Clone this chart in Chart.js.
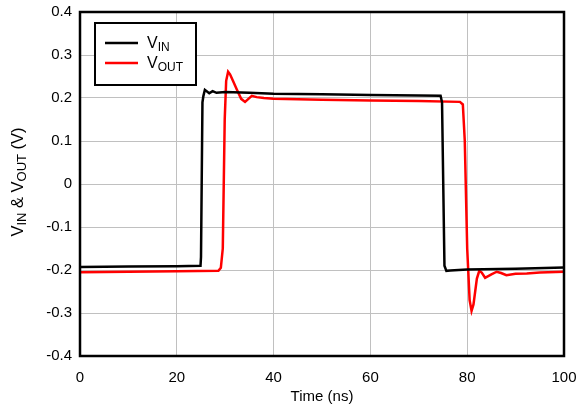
<!DOCTYPE html>
<html>
<head>
<meta charset="utf-8">
<script src="https://cdn.jsdelivr.net/npm/chart.js@4"></script>
<style>
  html, body { margin: 0; padding: 0; background: #fff; }
  #wrap { width: 580px; height: 410px; }
</style>
</head>
<body>
<div id="wrap"><canvas id="chart" width="580" height="410"></canvas></div>
<script>
// time axis (ns) and voltages (V)
const vinTime = [0, 10, 20, 24.9, 25.0, 25.3, 25.5, 25.8, 26.7, 27.4, 28.2, 30, 35, 40, 50, 60, 70, 74.5, 74.8, 75.3, 75.7, 76.5, 80, 90, 100];
const vinValues = [-0.193, -0.192, -0.191, -0.19, -0.17, 0.19, 0.205, 0.219, 0.211, 0.216, 0.212, 0.214, 0.212, 0.210, 0.209, 0.207, 0.206, 0.205, 0.19, -0.19, -0.202, -0.201, -0.199, -0.197, -0.194];

const voutTime = [0, 10, 20, 28.6, 29.1, 29.5, 29.9, 30.2, 30.6, 31.0, 31.6, 32.4, 33.3, 34.1, 34.8, 35.5, 36.5, 38, 40, 50, 60, 70, 78.5, 79.1, 79.5, 80.0, 80.5, 80.9, 81.3, 82.0, 82.5, 83.0, 83.7, 85, 86.1, 87, 88.1, 90, 92.3, 95, 100];
const voutValues = [-0.205, -0.204, -0.203, -0.202, -0.195, -0.15, 0.15, 0.24, 0.261, 0.255, 0.24, 0.22, 0.198, 0.191, 0.198, 0.205, 0.202, 0.200, 0.198, 0.196, 0.194, 0.193, 0.191, 0.185, 0.10, -0.15, -0.27, -0.295, -0.28, -0.22, -0.202, -0.206, -0.218, -0.21, -0.204, -0.207, -0.212, -0.209, -0.208, -0.206, -0.204];

const xTicks = [0, 20, 40, 60, 80, 100];
const yTicks = [-0.4, -0.3, -0.2, -0.1, 0, 0.1, 0.2, 0.3, 0.4];

const seriesNames = [['V', 'IN'], ['V', 'OUT']];
const seriesColors = ['#000000', '#ff0000'];

const FONT = '"Liberation Sans", Arial, sans-serif';

const toPoints = (xs, ys) => xs.map((x, i) => ({ x: x, y: ys[i] }));

// draws main text + subscript, returns the end x
const drawSub = (ctx, x, y, main, sub, size) => {
  ctx.font = size + 'px ' + FONT;
  ctx.fillText(main, x, y);
  const w = ctx.measureText(main).width;
  ctx.font = Math.round(size * 0.76) + 'px ' + FONT;
  ctx.fillText(sub, x + w, y + size * 0.24);
  return x + w + ctx.measureText(sub).width;
};

const framePlugin = {
  id: 'frame',
  afterDatasetsDraw: (chart) => {
    const { ctx, chartArea } = chart;
    ctx.save();
    ctx.strokeStyle = '#000';
    ctx.lineWidth = 2.5;
    ctx.strokeRect(chartArea.left, chartArea.top, chartArea.right - chartArea.left, chartArea.bottom - chartArea.top);

    // legend box
    const lx = 95, ly = 23, lw = 101, lh = 62;
    ctx.fillStyle = '#fff';
    ctx.fillRect(lx, ly, lw, lh);
    ctx.lineWidth = 2;
    ctx.strokeRect(lx, ly, lw, lh);
    seriesNames.forEach((name, i) => {
      const y = 43 + i * 20;
      ctx.strokeStyle = seriesColors[i];
      ctx.lineWidth = 2.5;
      ctx.beginPath();
      ctx.moveTo(105, y);
      ctx.lineTo(138, y);
      ctx.stroke();
      ctx.fillStyle = '#000';
      ctx.textBaseline = 'middle';
      ctx.textAlign = 'left';
      drawSub(ctx, 147, y + 1, name[0], name[1], 16);
    });

    // y axis title with subscripts
    ctx.translate(18, 182);
    ctx.rotate(-Math.PI / 2);
    ctx.fillStyle = '#000';
    ctx.textBaseline = 'middle';
    ctx.textAlign = 'left';
    const parts = [['V', 'IN'], [' & V', 'OUT'], [' (V)', '']];
    const size = 16.5;
    let total = 0;
    parts.forEach((p) => {
      ctx.font = size + 'px ' + FONT;
      total += ctx.measureText(p[0]).width;
      ctx.font = Math.round(size * 0.76) + 'px ' + FONT;
      total += ctx.measureText(p[1]).width;
    });
    let x = -total / 2;
    parts.forEach((p) => {
      x = drawSub(ctx, x, 0, p[0], p[1], size);
    });
    ctx.restore();
  },
};

const chart = new Chart('chart', {
  type: 'scatter',
  data: {
    datasets: [
      {
        label: 'VIN',
        data: toPoints(vinTime, vinValues),
        borderColor: seriesColors[0],
        borderWidth: 2.5,
        showLine: true,
        pointRadius: 0,
        tension: 0,
      },
      {
        label: 'VOUT',
        data: toPoints(voutTime, voutValues),
        borderColor: seriesColors[1],
        borderWidth: 2.5,
        showLine: true,
        pointRadius: 0,
        tension: 0,
      },
    ],
  },
  options: {
    responsive: false,
    animation: false,
    layout: { padding: { top: 12, right: 16, left: 0, bottom: 0 } },
    plugins: { legend: { display: false }, tooltip: { enabled: false } },
    scales: {
      x: {
        type: 'linear',
        min: 0,
        max: 100,
        afterBuildTicks: (scale) => { scale.ticks = xTicks.map((v) => ({ value: v })); },
        afterFit: (scale) => {
          scale.height = 54;
          scale.paddingLeft = 0;
          scale.paddingRight = 0;
        },
        grid: { color: '#c0c0c0', lineWidth: 1, drawTicks: false },
        border: { display: false },
        ticks: { color: '#000', font: { family: FONT, size: 15 }, padding: 13, maxRotation: 0 },
        title: { display: true, text: 'Time (ns)', color: '#000', font: { family: FONT, size: 15 }, padding: { top: 2 } },
      },
      y: {
        type: 'linear',
        min: -0.4,
        max: 0.4,
        afterBuildTicks: (scale) => { scale.ticks = yTicks.map((v) => ({ value: v })); },
        afterFit: (scale) => {
          scale.width = 80;
          scale.paddingTop = 0;
          scale.paddingBottom = 0;
        },
        grid: { color: '#c0c0c0', lineWidth: 1, drawTicks: false },
        border: { display: false },
        ticks: {
          color: '#000',
          font: { family: FONT, size: 15 },
          padding: 8,
          callback: (v) => String(Number(v.toFixed(1))),
        },
      },
    },
  },
  plugins: [framePlugin],
});
</script>
</body>
</html>
